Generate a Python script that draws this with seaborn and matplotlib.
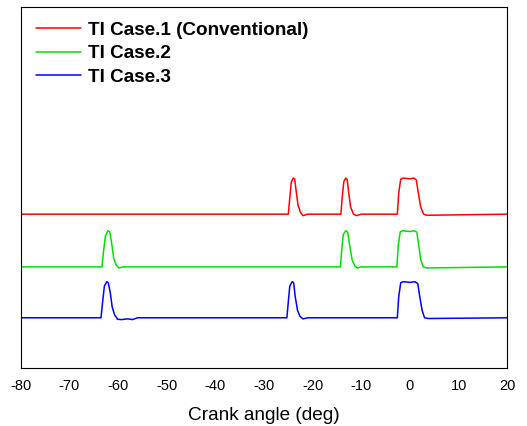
import numpy as np
import pandas as pd
import matplotlib
matplotlib.use("Agg")
import matplotlib.pyplot as plt
import seaborn as sns

# ──────────────────────────────────────────────
# DATOS (nivel normalizado 0..1)
# ──────────────────────────────────────────────
series_names = ["TI Case.1 (Conventional)", "TI Case.2", "TI Case.3"]
series_colors = ["#FF0000", "#00E000", "#0000FF"]
series_offsets = [4.27, 2.81, 1.40]

case1_angle = [-80, -25.0, -24.7, -24.4, -24.0, -23.7, -23.4, -23.0, -22.5, -22.0, -21.0,
               -14.2, -13.9, -13.6, -13.2, -12.9, -12.6, -12.2, -11.6, -11.0, -10.0,
               -2.6, -2.3, -1.9, -1.4, 0.0, 0.8, 1.3, 1.7, 2.2, 2.8, 3.5, 20]
case1_level = [0, 0, 0.45, 0.88, 1.0, 0.98, 0.65, 0.25, 0.05, -0.04, 0,
               0, 0.5, 0.9, 1.0, 0.96, 0.6, 0.2, 0.0, -0.04, 0,
               0, 0.6, 0.97, 1.0, 0.98, 1.0, 0.95, 0.6, 0.2, 0.0, -0.03, 0]

case2_angle = [-80, -63.3, -63.0, -62.6, -62.1, -61.7, -61.3, -60.9, -60.4, -59.8, -59.0,
               -14.3, -14.0, -13.7, -13.2, -12.8, -12.4, -11.9, -11.3, -10.8, -10.0,
               -2.7, -2.4, -2.0, -1.5, 0.0, 0.9, 1.4, 1.8, 2.2, 2.7, 3.5, 20]
case2_level = [0, 0, 0.4, 0.85, 1.0, 0.97, 0.65, 0.25, 0.05, -0.03, 0,
               0, 0.5, 0.9, 1.0, 0.96, 0.6, 0.2, 0.02, -0.03, 0,
               0, 0.6, 0.97, 1.0, 0.98, 1.0, 0.96, 0.6, 0.2, 0.0, -0.03, 0]

case3_angle = [-80, -63.5, -63.2, -62.8, -62.3, -62.0, -61.6, -61.2, -60.7, -60.1, -59.3, -58.0, -57.0, -56.0,
               -25.3, -25.0, -24.7, -24.2, -23.9, -23.6, -23.1, -22.6, -22.0, -21.0,
               -2.6, -2.3, -1.9, -1.4, 0.0, 1.0, 1.6, 2.0, 2.5, 3.0, 3.8, 20]
case3_level = [0, 0, 0.4, 0.88, 1.0, 0.97, 0.7, 0.3, 0.08, -0.04, -0.05, -0.03, -0.05, 0,
               0, 0.45, 0.88, 1.0, 0.97, 0.6, 0.2, 0.04, -0.03, 0,
               0, 0.6, 0.97, 1.0, 0.98, 1.0, 0.95, 0.6, 0.2, 0.0, -0.02, 0]

tick_values = [-80, -70, -60, -50, -40, -30, -20, -10, 0, 10, 20]

# ──────────────────────────────────────────────
# ESTILO
# ──────────────────────────────────────────────
sns.set_style("white")
plt.rcParams.update({
    "font.family": ["Liberation Sans", "DejaVu Sans"],
    "axes.unicode_minus": False,
    "text.color": "black",
    "axes.labelcolor": "black",
    "xtick.color": "black",
})

frames = []
for name, ang, lev, off in zip(series_names,
                               [case1_angle, case2_angle, case3_angle],
                               [case1_level, case2_level, case3_level],
                               series_offsets):
    frames.append(pd.DataFrame({"angle": ang,
                                "signal": np.array(lev) + off,
                                "case": name}))
df = pd.concat(frames, ignore_index=True)

fig = plt.figure(figsize=(5.27, 4.26), dpi=100)
ax = fig.add_axes([0.0393, 0.1354, 0.9233, 0.8474])

sns.lineplot(data=df, x="angle", y="signal", hue="case", hue_order=series_names,
             palette=series_colors, sort=False, estimator=None, lw=1.1, ax=ax)

ax.set_xlim(-80, 20)
ax.set_ylim(0, 10)
ax.set_xticks(tick_values)
ax.set_xticks(np.arange(-75, 20, 10), minor=True)
ax.set_yticks([])
ax.tick_params(axis="x", which="major", direction="in", length=5.5, width=0.8,
               labelsize=10.5, pad=7.5, top=False, labelcolor="black")
ax.tick_params(axis="x", which="minor", direction="in", length=2.5, width=0.8, top=False)
for s in ax.spines.values():
    s.set_visible(True)
    s.set_color("black")
    s.set_linewidth(0.8)

ax.set_xlabel("Crank angle (deg)", fontsize=13.7, labelpad=10, color="black")
ax.set_ylabel("")

leg = ax.legend(loc="upper left", frameon=False, handlelength=2.4, handletextpad=0.37,
                labelspacing=0.34, borderaxespad=0.0, bbox_to_anchor=(0.016, 0.982),
                prop={"weight": "bold", "size": 13.6})
for line in leg.get_lines():
    line.set_linewidth(1.1)
for t in leg.get_texts():
    t.set_color("black")

fig.savefig("out.png", dpi=100)
